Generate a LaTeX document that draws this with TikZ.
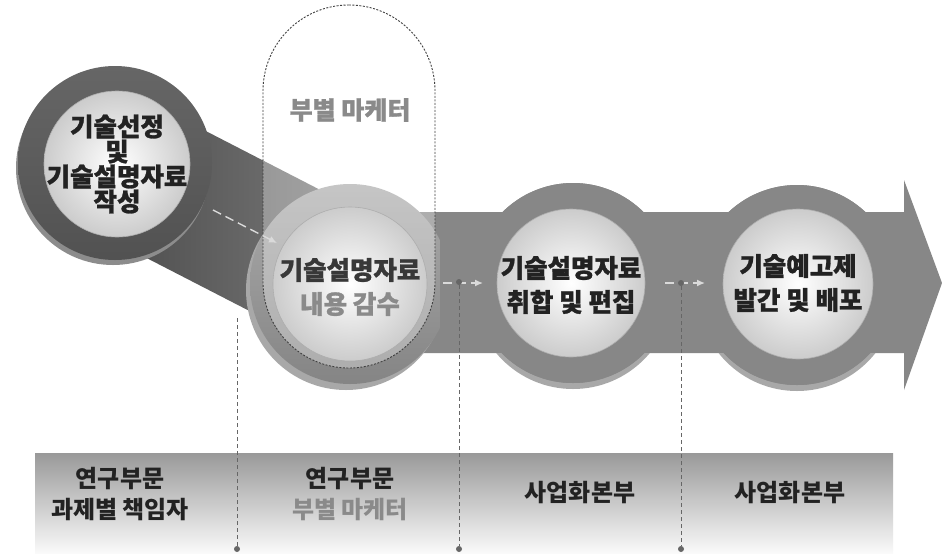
\documentclass[tikz,border=0pt]{standalone}
\usepackage{fontspec}
\setmainfont{Noto Sans CJK KR}
\newfontfamily\heavy{Noto Sans CJK KR}[BoldFeatures={FakeBold=1.1}]
\usetikzlibrary{arrows.meta,calc}
\definecolor{bandgray}{HTML}{878787}
\definecolor{rimgray}{HTML}{A8A8A8}
\definecolor{txtdark}{HTML}{222222}
\definecolor{txtgray}{HTML}{8A8A8A}
\definecolor{linegray}{HTML}{666666}
\definecolor{arrowlight}{HTML}{DADADA}
\begin{document}
\begin{tikzpicture}[x=1pt,y=-1pt,
  ringA/.style={circle,inner sep=0pt,minimum size=194pt,top color=black!60,bottom color=black!68},
  ringB/.style={circle,inner sep=0pt,minimum size=200pt,top color=black!33,bottom color=black!48},
  ringC/.style={circle,inner sep=0pt,minimum size=200pt,fill=bandgray},
  rimc/.style={circle,inner sep=0pt,minimum size=200pt,fill=rimgray},
  disc/.style={circle,inner sep=0pt,minimum size=150pt,shading=radial,inner color=white,outer color=black!20,draw=black!32,line width=0.6pt},
  ctext/.style={align=center,text=txtdark,font=\heavy\bfseries\fontsize{25.5}{34}\selectfont},
  btext/.style={align=center,text=txtdark,font=\bfseries\fontsize{24}{31}\selectfont},
  dot/.style={circle,fill=linegray,inner sep=0pt,minimum size=6pt},
  vline/.style={draw=linegray,line width=0.8pt,dash pattern=on 4pt off 3pt},
  smallarrow/.style={draw=arrowlight,line width=1.4pt,dash pattern=on 9pt off 5pt,-{Latex[length=8pt,width=7pt]}}
]
\useasboundingbox (0,0) rectangle (942,555);
\fill[white] (0,0) rectangle (942,555);

% circle centres
\coordinate (p1) at (115,163);
\coordinate (p2) at (350,284);
\coordinate (p3) at (573,283);
\coordinate (p4) at (797,285);

% bottom band
\node[rectangle,inner sep=0pt,minimum width=858pt,minimum height=100pt,top color=black!40,bottom color=black!2] (bb) at (464,503) {};

% diagonal band c1 -> c2
\shade[left color=black!72,right color=black!50]
  ($(p1)!70pt!90:(p2)$) -- ($(p2)!70pt!-90:(p1)$) -- ($(p2)!70pt!90:(p1)$) -- ($(p1)!70pt!-90:(p2)$) -- cycle;

% main arrow band
\fill[bandgray] (350,212) -- (904,212) -- (904,180) -- (942,283) -- (904,390) -- (904,353) -- (350,353) -- cycle;

% rims and rings
\node[rimc,minimum size=194pt,fill=black!45] (r1) at ($(p1)+(-2,5)$) {};
\node[ringA] (c1) at (p1) {};
\node[rimc] (r2) at ($(p2)+(-4,6)$) {};
\node[ringB] (c2) at (p2) {};
\node[rimc] (r3) at ($(p3)+(0,6)$) {};
\node[ringC] (c3) at (p3) {};
\node[rimc] (r4) at ($(p4)+(0,6)$) {};
\node[ringC] (c4) at (p4) {};
% re-cover band between rings
\fill[bandgray] (440,212) rectangle (904,353);
\node[ringC] (c3b) at (p3) {};
\node[ringC] (c4b) at (p4) {};

% capsule overlay (fill)
\node[rectangle,rounded corners=86pt,minimum width=172pt,minimum height=363pt,inner sep=0pt,fill=white,fill opacity=0.32] (cap) at (349,186.5) {};

% inner discs with texts
\node[disc,minimum size=146pt] (d1) at ($(p1)+(2,1)$) {};
\node[ctext,font=\heavy\bfseries\fontsize{25.5}{25}\selectfont] (t1) at (d1) {기술선정\\및\\기술설명자료\\작성};
\node[disc,minimum size=154pt] (d2) at (p2) {};
\node[ctext] (t2) at ($(d2)+(0,3)$) {\textcolor{black!78}{기술설명자료}\\\textcolor{txtgray}{내용 감수}};
\node[disc,minimum size=148pt] (d3) at ($(p3)+(-2,0)$) {};
\node[ctext] (t3) at ($(d3)+(0,2)$) {기술설명자료\\취합 및 편집};
\node[disc,minimum size=150pt] (d4) at ($(p4)+(1,-1)$) {};
\node[ctext] (t4) at ($(d4)+(0,-1)$) {기술예고제\\발간 및 배포};

% capsule border and label
\node[rectangle,rounded corners=86pt,minimum width=172pt,minimum height=363pt,inner sep=0pt,draw=black!75,line width=0.9pt,dash pattern=on 2pt off 1.5pt] (capb) at (349,186.5) {};
\node[text=txtgray,font=\heavy\bfseries\fontsize{25}{26}\selectfont] (capl) at (350,110) {부별 마케터};

% small arrows
\coordinate (a1s) at (213,210);
\coordinate (a1e) at (277,243);
\draw[smallarrow] (a1s) -- (a1e);
\coordinate (a2s) at (443,283);
\coordinate (a2e) at (483,283);
\draw[smallarrow] (a2s) -- (a2e);
\coordinate (a3s) at (665,283);
\coordinate (a3e) at (705,283);
\draw[smallarrow] (a3s) -- (a3e);

% vertical dashed lines with dots
\coordinate (v1t) at (237,318);
\node[dot] (v1b) at (237,549) {};
\draw[vline] (v1t) -- (v1b);
\node[dot] (v2t) at (459,282) {};
\node[dot] (v2b) at (459,549) {};
\draw[vline] (v2t) -- (v2b);
\node[dot] (v3t) at (681,283) {};
\node[dot] (v3b) at (681,549) {};
\draw[vline] (v3t) -- (v3b);

% bottom texts
\node[btext] (b1) at (120,494) {연구부문\\과제별 책임자};
\node[btext] (b2) at (350,494) {연구부문\\\textcolor{txtgray}{부별 마케터}};
\node[btext] (b3) at (580,493) {사업화본부};
\node[btext] (b4) at (790,493) {사업화본부};
\end{tikzpicture}
\end{document}
